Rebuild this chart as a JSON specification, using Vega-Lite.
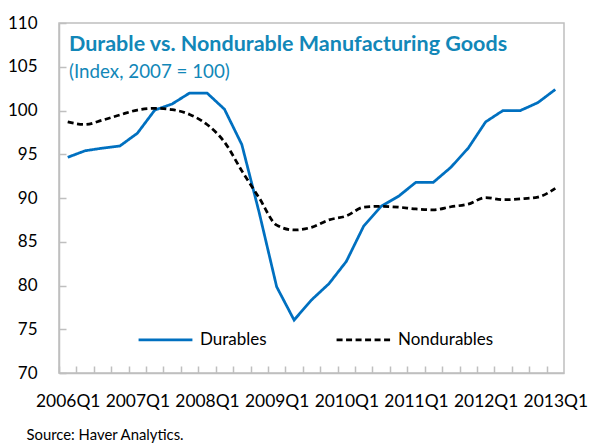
{
  "$schema": "https://vega.github.io/schema/vega-lite/v6.json",
  "width": 505,
  "height": 350,
  "autosize": "none",
  "padding": {"left": 59, "top": 23, "right": 25, "bottom": 70},
  "background": "white",
  "config": {
    "font": "Lato",
    "view": {"stroke": "#BFBFBF", "strokeWidth": 1.5}
  },
  "title": {
    "text": "Durable vs. Nondurable Manufacturing Goods",
    "subtitle": "(Index, 2007 = 100)",
    "anchor": "start",
    "frame": "group",
    "orient": "top",
    "offset": -68,
    "dx": 10,
    "font": "Lato",
    "fontSize": 21.5,
    "fontWeight": "bold",
    "color": "#1287B8",
    "subtitleFont": "Lato",
    "subtitleFontSize": 18.75,
    "subtitleColor": "#1287B8",
    "subtitlePadding": 8
  },
  "data": {
    "values": [
      {"quarter": "2006Q1", "series": "Durables", "value": 94.65},
      {"quarter": "2006Q2", "series": "Durables", "value": 95.4},
      {"quarter": "2006Q3", "series": "Durables", "value": 95.7},
      {"quarter": "2006Q4", "series": "Durables", "value": 95.95},
      {"quarter": "2007Q1", "series": "Durables", "value": 97.4},
      {"quarter": "2007Q2", "series": "Durables", "value": 100.05},
      {"quarter": "2007Q3", "series": "Durables", "value": 100.75},
      {"quarter": "2007Q4", "series": "Durables", "value": 102.0},
      {"quarter": "2008Q1", "series": "Durables", "value": 102.0},
      {"quarter": "2008Q2", "series": "Durables", "value": 100.15},
      {"quarter": "2008Q3", "series": "Durables", "value": 96.1},
      {"quarter": "2008Q4", "series": "Durables", "value": 88.3},
      {"quarter": "2009Q1", "series": "Durables", "value": 79.85},
      {"quarter": "2009Q2", "series": "Durables", "value": 76.05},
      {"quarter": "2009Q3", "series": "Durables", "value": 78.35},
      {"quarter": "2009Q4", "series": "Durables", "value": 80.2},
      {"quarter": "2010Q1", "series": "Durables", "value": 82.75},
      {"quarter": "2010Q2", "series": "Durables", "value": 86.8},
      {"quarter": "2010Q3", "series": "Durables", "value": 89.05},
      {"quarter": "2010Q4", "series": "Durables", "value": 90.2},
      {"quarter": "2011Q1", "series": "Durables", "value": 91.8},
      {"quarter": "2011Q2", "series": "Durables", "value": 91.8},
      {"quarter": "2011Q3", "series": "Durables", "value": 93.5},
      {"quarter": "2011Q4", "series": "Durables", "value": 95.7},
      {"quarter": "2012Q1", "series": "Durables", "value": 98.7},
      {"quarter": "2012Q2", "series": "Durables", "value": 100.0},
      {"quarter": "2012Q3", "series": "Durables", "value": 100.0},
      {"quarter": "2012Q4", "series": "Durables", "value": 100.9},
      {"quarter": "2013Q1", "series": "Durables", "value": 102.4},
      {"quarter": "2006Q1", "series": "Nondurables", "value": 98.7},
      {"quarter": "2006Q2", "series": "Nondurables", "value": 98.4},
      {"quarter": "2006Q3", "series": "Nondurables", "value": 98.9},
      {"quarter": "2006Q4", "series": "Nondurables", "value": 99.5},
      {"quarter": "2007Q1", "series": "Nondurables", "value": 100.05},
      {"quarter": "2007Q2", "series": "Nondurables", "value": 100.25},
      {"quarter": "2007Q3", "series": "Nondurables", "value": 100.1},
      {"quarter": "2007Q4", "series": "Nondurables", "value": 99.55},
      {"quarter": "2008Q1", "series": "Nondurables", "value": 98.4},
      {"quarter": "2008Q2", "series": "Nondurables", "value": 96.4},
      {"quarter": "2008Q3", "series": "Nondurables", "value": 93.1},
      {"quarter": "2008Q4", "series": "Nondurables", "value": 90.0},
      {"quarter": "2009Q1", "series": "Nondurables", "value": 86.9},
      {"quarter": "2009Q2", "series": "Nondurables", "value": 86.35},
      {"quarter": "2009Q3", "series": "Nondurables", "value": 86.65},
      {"quarter": "2009Q4", "series": "Nondurables", "value": 87.5},
      {"quarter": "2010Q1", "series": "Nondurables", "value": 87.95},
      {"quarter": "2010Q2", "series": "Nondurables", "value": 88.95},
      {"quarter": "2010Q3", "series": "Nondurables", "value": 89.05},
      {"quarter": "2010Q4", "series": "Nondurables", "value": 88.95},
      {"quarter": "2011Q1", "series": "Nondurables", "value": 88.75},
      {"quarter": "2011Q2", "series": "Nondurables", "value": 88.65},
      {"quarter": "2011Q3", "series": "Nondurables", "value": 89.0},
      {"quarter": "2011Q4", "series": "Nondurables", "value": 89.3},
      {"quarter": "2012Q1", "series": "Nondurables", "value": 90.05},
      {"quarter": "2012Q2", "series": "Nondurables", "value": 89.8},
      {"quarter": "2012Q3", "series": "Nondurables", "value": 89.9},
      {"quarter": "2012Q4", "series": "Nondurables", "value": 90.1},
      {"quarter": "2013Q1", "series": "Nondurables", "value": 91.1}
    ]
  },
  "encoding": {
    "x": {
      "field": "quarter",
      "type": "ordinal",
      "scale": {"type": "point", "padding": 0.5},
      "axis": {
        "title": "Source: Haver Analytics.",
        "titleX": -33,
        "titleY": 66,
        "titleAlign": "left",
        "titleAnchor": "start",
        "titleBaseline": "alphabetic",
        "titleFont": "Lato",
        "titleFontSize": 14.85,
        "titleFontWeight": "normal",
        "titleColor": "#000000",
        "labelAngle": 0,
        "labelExpr": "indexof(datum.label, 'Q1') > 0 ? datum.label : ''",
        "labelFontSize": 17.4,
        "labelColor": "#000000",
        "labelPadding": 26,
        "labelOverlap": false,
        "tickOffset": -8.7,
        "labelOffset": 8.7,
        "tickSize": -7,
        "tickColor": "#BFBFBF",
        "tickWidth": 1.5,
        "domainColor": "#BFBFBF",
        "domainWidth": 1.5
      }
    },
    "y": {
      "field": "value",
      "type": "quantitative",
      "scale": {"domain": [70, 110], "nice": false, "zero": false},
      "axis": {
        "title": null,
        "values": [70, 75, 80, 85, 90, 95, 100, 105, 110],
        "grid": false,
        "labelFontSize": 17,
        "labelColor": "#000000",
        "labelPadding": 29,
        "tickSize": -7,
        "tickColor": "#BFBFBF",
        "tickWidth": 1.5,
        "domainColor": "#BFBFBF",
        "domainWidth": 1.5
      }
    },
    "color": {
      "field": "series",
      "type": "nominal",
      "scale": {"domain": ["Durables", "Nondurables"], "range": ["#0070C0", "#000000"]},
      "legend": {
        "title": null,
        "orient": "none",
        "legendX": 78,
        "legendY": 288,
        "direction": "horizontal",
        "symbolType": "stroke",
        "symbolSize": 2900,
        "symbolStrokeWidth": 2.75,
        "labelFontSize": 17,
        "labelColor": "#000000",
        "labelOffset": 6,
        "columnPadding": 64
      }
    },
    "strokeDash": {
      "field": "series",
      "type": "nominal",
      "scale": {"domain": ["Durables", "Nondurables"], "range": [[1, 0], [6, 3.5]]},
      "legend": null
    }
  },
  "layer": [
    {
      "transform": [{"filter": "datum.series == 'Durables'"}],
      "mark": {"type": "line", "strokeWidth": 2.75, "interpolate": "linear"}
    },
    {
      "transform": [{"filter": "datum.series == 'Nondurables'"}],
      "mark": {"type": "line", "strokeWidth": 2.75, "interpolate": "monotone"}
    }
  ]
}
